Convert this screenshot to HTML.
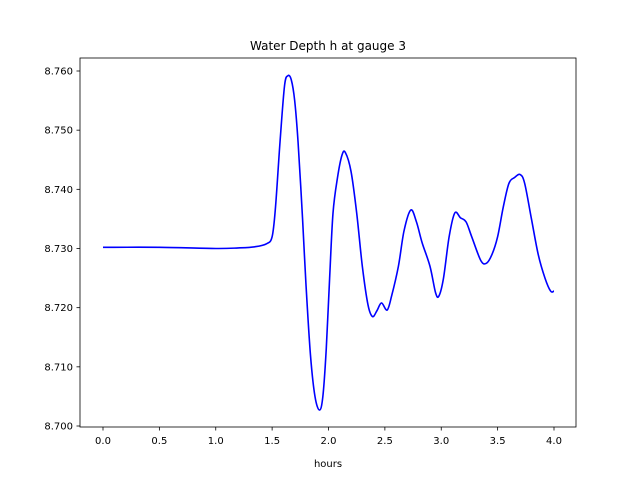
<!DOCTYPE html>
<html><head><meta charset="utf-8"><style>
body{margin:0;background:#fff}
svg{display:block;font-family:"DejaVu Sans","Liberation Sans",sans-serif}
</style></head><body>
<svg id="chart" width="640" height="480">
<rect x="0" y="0" width="640" height="480" fill="#fff"/>
<g id="plot"></g>
</svg>
<script>
const hours=[0,0.5,1.0,1.2,1.35,1.45,1.5,1.53,1.57,1.61,1.64,1.67,1.7,1.73,1.77,1.8,1.84,1.88,1.92,1.95,1.98,2.01,2.04,2.08,2.12,2.15,2.2,2.25,2.3,2.35,2.39,2.43,2.47,2.52,2.56,2.62,2.67,2.73,2.78,2.83,2.9,2.95,2.98,3.02,3.07,3.12,3.17,3.22,3.27,3.35,3.4,3.45,3.5,3.55,3.6,3.65,3.7,3.74,3.8,3.86,3.92,3.97,4.0];
const depth=[8.7302,8.7302,8.7300,8.7301,8.7303,8.7308,8.732,8.737,8.748,8.7575,8.7592,8.7585,8.755,8.748,8.735,8.724,8.712,8.705,8.7027,8.705,8.713,8.725,8.736,8.742,8.7458,8.7462,8.743,8.736,8.727,8.7205,8.7185,8.7195,8.7208,8.7196,8.722,8.727,8.733,8.7365,8.7345,8.731,8.727,8.7225,8.722,8.725,8.732,8.736,8.7352,8.7345,8.732,8.728,8.7275,8.729,8.732,8.737,8.741,8.742,8.7425,8.741,8.735,8.729,8.725,8.7228,8.7228];
const xTicks=[0,0.5,1.0,1.5,2.0,2.5,3.0,3.5,4.0];
const xTickLabels=["0.0","0.5","1.0","1.5","2.0","2.5","3.0","3.5","4.0"];
const yTicks=[8.70,8.71,8.72,8.73,8.74,8.75,8.76];
const yTickLabels=["8.700","8.710","8.720","8.730","8.740","8.750","8.760"];
const L=80,R=576,T=58,B=427;
const sx=v=>103+(v-0)*(554-103)/4;
const sy=v=>426+(v-8.70)*(71-426)/0.06;
const ns="http://www.w3.org/2000/svg";
const g=document.getElementById('plot');
function mk(t,a){const e=document.createElementNS(ns,t);for(const k in a)e.setAttribute(k,a[k]);g.appendChild(e);return e;}
const frame=mk('rect',{x:L,y:T,width:R-L,height:B-T,fill:'none',stroke:'#000','stroke-width':0.8});


xTicks.forEach((v,i)=>{
  const t=mk('line',{x1:sx(v),x2:sx(v),y1:B,y2:B+3.5,stroke:'#000','stroke-width':0.8});
  
  
  const l=mk('text',{x:sx(v),y:B+17,'text-anchor':'middle','font-size':10});
  l.textContent=xTickLabels[i];
  
  
});
yTicks.forEach((v,i)=>{
  const t=mk('line',{x1:L-3.5,x2:L,y1:sy(v),y2:sy(v),stroke:'#000','stroke-width':0.8});
  
  
  const l=mk('text',{x:L-7,y:sy(v)+3.5,'text-anchor':'end','font-size':10});
  l.textContent=yTickLabels[i];
  
  
});
const P=hours.map((h,i)=>[sx(h),sy(depth[i])]);
let d='M'+P[0][0]+','+P[0][1];
for(let i=0;i<P.length-1;i++){
  const p0=P[Math.max(0,i-1)],p1=P[i],p2=P[i+1],p3=P[Math.min(P.length-1,i+2)];
  const c1=[p1[0]+(p2[0]-p0[0])/6,p1[1]+(p2[1]-p0[1])/6];
  const c2=[p2[0]-(p3[0]-p1[0])/6,p2[1]-(p3[1]-p1[1])/6];
  d+=' C'+c1.join(',')+' '+c2.join(',')+' '+p2.join(',');
}
const line=mk('path',{d:d,fill:'none',stroke:'#0000ff','stroke-width':1.6});


const title=mk('text',{x:328,y:50,'text-anchor':'middle','font-size':12});
title.textContent='Water Depth h at gauge 3';


const xl=mk('text',{x:328,y:467,'text-anchor':'middle','font-size':10});
xl.textContent='hours';


</script>
</body></html>
